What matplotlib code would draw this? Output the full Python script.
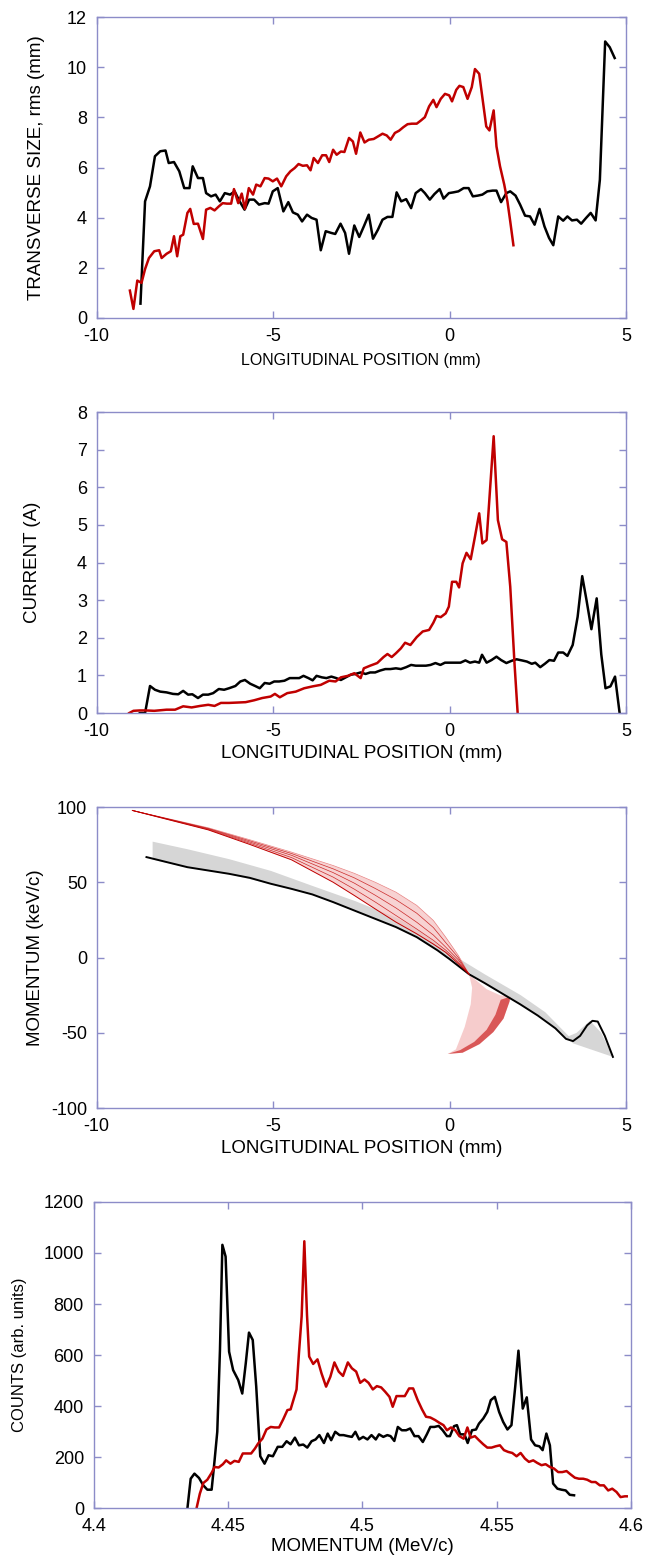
import numpy as np
import matplotlib
matplotlib.use("Agg")
import matplotlib.pyplot as plt

plt.rcParams['font.family'] = ['Liberation Sans', 'DejaVu Sans']
plt.rcParams['axes.unicode_minus'] = False

RED = '#c00000'
FRAME = '#8c8cc8'

# ---- panel 1: transverse size vs longitudinal position
size_black_x = [-8.76, -8.63, -8.49, -8.35, -8.20, -8.05, -7.96, -7.81, -7.66, -7.52, -7.37, -7.28,
                -7.13, -6.99, -6.90, -6.76, -6.63, -6.51, -6.37, -6.22, -6.09, -5.95, -5.81, -5.68,
                -5.54, -5.40, -5.24, -5.13, -5.01, -4.87, -4.71, -4.57, -4.44, -4.30, -4.18, -4.04,
                -3.91, -3.77, -3.65, -3.51, -3.35, -3.24, -3.09, -2.96, -2.85, -2.70, -2.56, -2.43,
                -2.29, -2.17, -2.03, -1.90, -1.76, -1.62, -1.50, -1.37, -1.23, -1.09, -0.96, -0.81,
                -0.70, -0.56, -0.43, -0.28, -0.17, -0.02, 0.11, 0.25, 0.40, 0.54, 0.66, 0.80, 0.93,
                1.07, 1.22, 1.33, 1.46, 1.61, 1.72, 1.87, 2.00, 2.14, 2.28, 2.41, 2.55, 2.69, 2.82,
                2.94, 3.08, 3.22, 3.34, 3.47, 3.61, 3.73, 3.87, 4.00, 4.14, 4.26, 4.41, 4.54, 4.68]
size_black_y = [0.57, 4.65, 5.25, 6.45, 6.65, 6.68, 6.18, 6.22, 5.85, 5.18, 5.18, 6.05,
                5.58, 5.58, 4.98, 4.85, 4.92, 4.65, 4.98, 4.92, 5.05, 4.65, 4.32, 4.72,
                4.72, 4.52, 4.58, 4.56, 5.05, 5.18, 4.25, 4.62, 4.21, 4.12, 3.85, 4.12,
                3.99, 3.92, 2.70, 3.46, 3.39, 3.35, 3.76, 3.39, 2.56, 3.69, 3.23, 3.65,
                4.12, 3.16, 3.52, 3.92, 4.03, 4.03, 5.01, 4.65, 4.74, 4.38, 4.98, 5.14,
                4.98, 4.72, 4.94, 5.14, 4.76, 4.98, 5.01, 5.05, 5.18, 5.18, 4.85, 4.88, 4.92,
                5.05, 5.08, 5.08, 4.62, 4.98, 5.05, 4.88, 4.52, 4.08, 4.05, 3.72, 4.35, 3.65, 3.19,
                2.90, 4.05, 3.88, 4.05, 3.89, 3.92, 3.76, 3.99, 4.19, 3.89, 5.51, 11.03, 10.80, 10.37]
size_red_x = [-9.06, -8.96, -8.85, -8.73, -8.63, -8.52, -8.37, -8.23, -8.16, -8.02, -7.90, -7.81,
              -7.72, -7.63, -7.55, -7.43, -7.35, -7.25, -7.13, -6.99, -6.90, -6.78, -6.66, -6.54,
              -6.43, -6.31, -6.19, -6.11, -5.99, -5.89, -5.80, -5.69, -5.57, -5.48, -5.36, -5.24,
              -5.13, -5.01, -4.89, -4.77, -4.63, -4.51, -4.39, -4.28, -4.16, -4.04, -3.94, -3.85,
              -3.73, -3.61, -3.50, -3.41, -3.30, -3.20, -3.08, -2.98, -2.85, -2.74, -2.65, -2.53,
              -2.41, -2.29, -2.15, -2.03, -1.90, -1.78, -1.67, -1.55, -1.43, -1.31, -1.19, -1.07,
              -0.93, -0.81, -0.70, -0.58, -0.46, -0.37, -0.25, -0.13, -0.01, 0.07, 0.19, 0.28,
              0.39, 0.51, 0.63, 0.72, 0.84, 0.96, 1.04, 1.13, 1.25, 1.33, 1.43, 1.55, 1.64, 1.72, 1.81]
size_red_y = [1.09, 0.36, 1.49, 1.40, 1.95, 2.39, 2.66, 2.70, 2.39, 2.56, 2.66, 3.26,
              2.46, 3.26, 3.32, 4.19, 4.35, 3.75, 3.76, 3.15, 4.32, 4.39, 4.29, 4.45,
              4.58, 4.56, 4.56, 5.14, 4.58, 4.96, 4.35, 5.18, 4.92, 5.32, 5.25, 5.58,
              5.56, 5.45, 5.56, 5.25, 5.65, 5.85, 5.98, 6.14, 6.07, 6.09, 5.89, 6.38,
              6.18, 6.49, 6.49, 6.22, 6.71, 6.51, 6.64, 6.62, 7.18, 7.04, 6.55, 7.40,
              7.00, 7.11, 7.14, 7.24, 7.35, 7.28, 7.11, 7.38, 7.47, 7.61, 7.73, 7.75,
              7.75, 7.88, 8.01, 8.44, 8.70, 8.41, 8.74, 8.94, 8.88, 8.64, 9.10, 9.26,
              9.21, 8.74, 9.21, 9.93, 9.74, 8.48, 7.64, 7.48, 8.28, 6.84, 6.05, 5.32, 4.65, 3.85, 2.90]

# ---- panel 2: current vs longitudinal position
cur_black_x = [-8.78, -8.63, -8.49, -8.35, -8.20, -8.02, -7.84, -7.69, -7.55, -7.41, -7.29, -7.13,
               -6.99, -6.84, -6.70, -6.54, -6.39, -6.25, -6.07, -5.93, -5.80, -5.65, -5.51, -5.38,
               -5.24, -5.10, -4.97, -4.83, -4.68, -4.53, -4.39, -4.26, -4.14, -4.00, -3.88, -3.77,
               -3.62, -3.49, -3.35, -3.21, -3.08, -2.94, -2.80, -2.67, -2.52, -2.38, -2.25, -2.11,
               -1.97, -1.82, -1.68, -1.52, -1.38, -1.23, -1.09, -0.96, -0.81, -0.67, -0.54, -0.40,
               -0.26, -0.13, 0.01, 0.15, 0.31, 0.45, 0.58, 0.72, 0.84, 0.92, 1.05, 1.19, 1.33,
               1.46, 1.61, 1.76, 1.90, 2.05, 2.19, 2.33, 2.43, 2.57, 2.70, 2.83, 2.96, 3.08, 3.22,
               3.34, 3.49, 3.63, 3.76, 3.88, 4.02, 4.17, 4.30, 4.42, 4.56, 4.69, 4.82]
cur_black_y = [0.0, 0.0, 0.72, 0.62, 0.57, 0.55, 0.51, 0.50, 0.59, 0.49, 0.50, 0.40,
               0.49, 0.49, 0.53, 0.64, 0.62, 0.66, 0.72, 0.84, 0.88, 0.78, 0.72, 0.66,
               0.80, 0.78, 0.84, 0.84, 0.86, 0.93, 0.93, 0.93, 0.99, 0.93, 0.87, 0.99,
               0.95, 0.93, 0.97, 0.93, 0.88, 0.95, 1.02, 1.04, 1.08, 1.04, 1.08, 1.08,
               1.13, 1.17, 1.17, 1.19, 1.17, 1.22, 1.28, 1.26, 1.26, 1.26, 1.28, 1.33,
               1.28, 1.34, 1.34, 1.34, 1.34, 1.40, 1.34, 1.37, 1.34, 1.55, 1.34, 1.41, 1.50,
               1.41, 1.33, 1.39, 1.43, 1.40, 1.37, 1.31, 1.34, 1.22, 1.31, 1.41, 1.39, 1.61, 1.61,
               1.52, 1.81, 2.56, 3.64, 3.01, 2.23, 3.05, 1.56, 0.66, 0.71, 0.97, 0.0]
cur_red_x = [-9.08, -8.96, -8.78, -8.61, -8.37, -8.02, -7.78, -7.55, -7.31, -7.07, -6.84, -6.66,
             -6.48, -6.25, -6.01, -5.78, -5.54, -5.31, -5.07, -4.95, -4.81, -4.60, -4.36, -4.12,
             -3.88, -3.65, -3.41, -3.23, -3.08, -2.88, -2.70, -2.52, -2.43, -2.25, -2.05, -1.87,
             -1.76, -1.64, -1.52, -1.38, -1.26, -1.11, -0.93, -0.76, -0.58, -0.46, -0.37, -0.25,
             -0.11, -0.02, 0.07, 0.19, 0.27, 0.37, 0.48, 0.60, 0.72, 0.84, 0.93, 1.05, 1.25,
             1.37, 1.49, 1.61, 1.72, 1.84, 1.93]
cur_red_y = [0.0, 0.06, 0.07, 0.07, 0.06, 0.09, 0.09, 0.18, 0.15, 0.19, 0.22, 0.19,
             0.27, 0.27, 0.28, 0.29, 0.34, 0.40, 0.44, 0.51, 0.42, 0.53, 0.57, 0.66,
             0.71, 0.75, 0.86, 0.84, 0.95, 0.99, 1.06, 0.93, 1.19, 1.26, 1.33, 1.49,
             1.57, 1.49, 1.59, 1.72, 1.87, 1.81, 2.02, 2.17, 2.21, 2.40, 2.58, 2.55,
             2.65, 2.83, 3.49, 3.49, 3.34, 3.98, 4.26, 4.09, 4.69, 5.31, 4.51, 4.60, 7.36,
             5.13, 4.62, 4.55, 3.36, 1.33, 0.0]

# ---- panel 3: longitudinal phase space (band edges and dense filaments)
ps_black_x = [-8.59, -8.02, -7.43, -6.84, -6.25, -5.66, -5.07, -4.48, -3.89, -3.30, -2.70, -2.11,
              -1.52, -0.93, -0.34, 0.0, 0.55, 1.0, 1.5, 2.0, 2.5, 3.0, 3.3, 3.5, 3.7, 3.9, 4.05,
              4.2, 4.4, 4.63]
ps_black_y = [66.8, 63.5, 60.1, 57.9, 55.7, 53.0, 49.1, 45.7, 42.0, 36.9, 31.3, 25.8,
              20.3, 13.6, 4.8, -1.0, -11.0, -17.0, -24.0, -31.0, -38.5, -47.0, -54.0, -55.5,
              -52.0, -45.0, -42.0, -42.5, -52.0, -66.0]
ps_gray_x = [-8.43, -7.43, -6.25, -5.07, -3.89, -2.70, -1.52, -0.93, -0.34, 0.37, 1.0, 2.0, 2.7, 3.37]
ps_gray_hi = [77.4, 72.3, 65.7, 57.9, 47.9, 38.0, 26.9, 19.0, 9.0, -2.0, -11.0, -24.6, -36.0, -52.0]
ps_gray_lo = [65.5, 60.1, 55.7, 49.1, 42.0, 31.3, 20.3, 13.6, 4.8, -7.0, -17.0, -31.0, -41.0, -54.5]
ps_tri_x = [3.3, 3.6, 3.98, 4.3, 4.63, 3.5]
ps_tri_y = [-53, -50, -42, -50, -66, -57]

ps_red_x = [-8.99, -6.84, -5.66, -4.48, -3.30, -2.70, -2.11, -1.52, -0.93, -0.46, -0.11, 0.25, 0.55]
ps_red_hi = [97.8, 86.3, 78.3, 70.1, 61.2, 56.0, 50.1, 43.5, 34.7, 24.7, 13.6, 1.4, -11.0]
ps_red_lo = [97.8, 84.9, 75.2, 65.0, 50.1, 41.3, 32.4, 23.6, 15.8, 9.0, 3.5, -4.1, -11.0]
ps_red_s1 = [97.8, 85.2, 76.0, 66.5, 53.5, 45.5, 37.0, 28.0, 19.0, 11.5, 5.0, -3.0, -11.0]
ps_red_s2 = [97.8, 85.6, 76.8, 68.0, 56.5, 49.5, 41.5, 33.0, 23.5, 15.0, 7.0, -1.5, -11.0]
ps_red_s3 = [97.8, 85.9, 77.6, 69.2, 59.0, 53.0, 46.0, 38.5, 29.5, 20.0, 10.0, 0.0, -11.0]
ps_hook_x = [0.55, 1.05, 1.43, 1.72, 1.70, 1.53, 1.24, 0.85, 0.37, -0.05, 0.18, 0.43, 0.60, 0.64]
ps_hook_y = [-11, -21, -25, -26, -29.2, -40.5, -49.5, -57.5, -63.2, -64, -61, -46, -31, -20]
ps_dense_x = [1.72, 1.70, 1.53, 1.24, 0.85, 0.37, -0.05, 0.3, 0.7, 1.05, 1.3, 1.45]
ps_dense_y = [-26, -29.2, -40.5, -49.5, -57.5, -63.2, -64, -61.5, -56, -48, -38, -28]

# ---- panel 4: momentum spectrum
spec_black_x = [4.4349, 4.4361, 4.4375, 4.4392, 4.4408, 4.4423, 4.4439, 4.4450, 4.4460, 4.4470,
                4.4479, 4.4491, 4.4504, 4.4519, 4.4538, 4.4553, 4.4566, 4.4578, 4.4592, 4.4605,
                4.4620, 4.4636, 4.4651, 4.4667, 4.4685, 4.4702, 4.4718, 4.4733, 4.4749, 4.4764,
                4.4780, 4.4795, 4.4811, 4.4826, 4.4840, 4.4857, 4.4871, 4.4884, 4.4899, 4.4915,
                4.4930, 4.4946, 4.4961, 4.4974, 4.4988, 4.5003, 4.5019, 4.5034, 4.5050, 4.5062,
                4.5078, 4.5093, 4.5105, 4.5119, 4.5132, 4.5147, 4.5163, 4.5178, 4.5194, 4.5209,
                4.5225, 4.5240, 4.5253, 4.5268, 4.5284, 4.5299, 4.5315, 4.5326, 4.5341, 4.5352,
                4.5364, 4.5380, 4.5392, 4.5408, 4.5423, 4.5434, 4.5450, 4.5465, 4.5478, 4.5493,
                4.5509, 4.5524, 4.5540, 4.5555, 4.5569, 4.5581, 4.5597, 4.5612, 4.5628, 4.5643,
                4.5659, 4.5671, 4.5685, 4.5698, 4.5710, 4.5726, 4.5741, 4.5757, 4.5772, 4.5788]
spec_black_y = [0, 115, 135, 118, 89, 72, 72, 187, 299, 620,
                1032, 986, 613, 541, 502, 449, 567, 688, 659, 476,
                203, 174, 207, 203, 240, 240, 262, 250, 276, 246,
                249, 237, 262, 269, 286, 255, 292, 266, 299, 286,
                286, 282, 279, 299, 269, 279, 269, 286, 269, 289,
                279, 286, 282, 263, 318, 305, 305, 312, 282, 282,
                259, 289, 318, 318, 322, 305, 282, 282, 321, 325,
                289, 289, 255, 305, 308, 331, 351, 377, 423, 436,
                377, 338, 308, 325, 476, 617, 390, 434, 269, 246,
                242, 227, 292, 246, 96, 76, 72, 69, 52, 50]
spec_red_x = [4.4383, 4.4395, 4.4408, 4.4423, 4.4439, 4.4450, 4.4465, 4.4481, 4.4493, 4.4509,
              4.4524, 4.4540, 4.4555, 4.4571, 4.4586, 4.4600, 4.4612, 4.4628, 4.4643, 4.4659,
              4.4674, 4.4690, 4.4705, 4.4721, 4.4733, 4.4744, 4.4755, 4.4764, 4.4774, 4.4784,
              4.4794, 4.4802, 4.4817, 4.4833, 4.4848, 4.4865, 4.4881, 4.4896, 4.4912, 4.4928,
              4.4946, 4.4961, 4.4977, 4.4992, 4.5008, 4.5023, 4.5039, 4.5054, 4.5070, 4.5085,
              4.5101, 4.5113, 4.5127, 4.5143, 4.5158, 4.5174, 4.5189, 4.5206, 4.5222, 4.5237,
              4.5253, 4.5271, 4.5287, 4.5302, 4.5315, 4.5330, 4.5346, 4.5361, 4.5377, 4.5391,
              4.5403, 4.5419, 4.5434, 4.5450, 4.5465, 4.5481, 4.5496, 4.5512, 4.5527, 4.5543,
              4.5558, 4.5574, 4.5589, 4.5605, 4.5620, 4.5636, 4.5651, 4.5667, 4.5682, 4.5698,
              4.5713, 4.5729, 4.5744, 4.5760, 4.5775, 4.5791, 4.5806, 4.5822, 4.5837, 4.5853,
              4.5868, 4.5884, 4.5899, 4.5915, 4.5930, 4.5946, 4.5961, 4.5977, 4.5984]
spec_red_y = [0, 56, 98, 111, 138, 161, 159, 172, 187, 174,
              185, 181, 214, 214, 214, 233, 253, 272, 308, 318,
              316, 316, 347, 384, 387, 426, 465, 607, 751, 1046,
              757, 594, 565, 583, 528, 476, 515, 571, 535, 518,
              571, 548, 535, 491, 504, 491, 465, 478, 473, 456,
              436, 397, 439, 439, 439, 469, 469, 423, 387, 358,
              355, 345, 334, 325, 305, 316, 305, 282, 272, 316,
              276, 282, 266, 250, 237, 237, 242, 246, 227, 220,
              216, 203, 216, 194, 181, 187, 177, 168, 172, 161,
              155, 141, 141, 145, 132, 119, 115, 115, 111, 102,
              102, 89, 89, 69, 76, 63, 43, 46, 46]

pos_ticks = [-10, -5, 0, 5]


def style_axes(ax):
    for sp in ax.spines.values():
        sp.set_color(FRAME)
        sp.set_linewidth(1.0)
    ax.tick_params(direction='in', length=5, width=1.0, color=FRAME,
                   top=True, right=True, labelsize=13, pad=7)


fig = plt.figure(figsize=(6.47, 15.6), dpi=100)

ax1 = fig.add_axes([0.1495, 0.7962, 0.818, 0.1928])
ax1.plot(size_black_x, size_black_y, color='black', lw=1.8)
ax1.plot(size_red_x, size_red_y, color=RED, lw=1.8)
ax1.set_xlim(-10, 5)
ax1.set_ylim(0, 12)
ax1.set_xticks(pos_ticks)
ax1.set_yticks(range(0, 13, 2))
ax1.set_xlabel('LONGITUDINAL POSITION (mm)', fontsize=11.5, labelpad=6)
ax1.set_ylabel('TRANSVERSE SIZE, rms (mm)', fontsize=13.5, labelpad=16)
style_axes(ax1)

ax2 = fig.add_axes([0.1495, 0.5429, 0.818, 0.1929])
ax2.plot(cur_black_x, cur_black_y, color='black', lw=1.8)
ax2.plot(cur_red_x, cur_red_y, color=RED, lw=1.8)
ax2.set_xlim(-10, 5)
ax2.set_ylim(0, 8)
ax2.set_xticks(pos_ticks)
ax2.set_yticks(range(0, 9))
ax2.set_xlabel('LONGITUDINAL POSITION (mm)', fontsize=13.5, labelpad=4)
ax2.set_ylabel('CURRENT (A)', fontsize=13.5, labelpad=26)
style_axes(ax2)

ax3 = fig.add_axes([0.1495, 0.2897, 0.818, 0.1929])
ax3.fill_between(ps_gray_x, ps_gray_lo, ps_gray_hi, color='#cccccc', lw=0, alpha=0.8)
ax3.fill(ps_tri_x, ps_tri_y, color='#cccccc', lw=0, alpha=0.8)
ax3.plot(ps_black_x, ps_black_y, color='black', lw=1.4)
ax3.fill_between(ps_red_x, ps_red_lo, ps_red_hi, color='#f4c0c0', lw=0, alpha=0.7)
ax3.plot(ps_red_x, ps_red_hi, color='#e88080', lw=0.5)
ax3.plot(ps_red_x, ps_red_lo, color=RED, lw=0.7)
for strand in (ps_red_s1, ps_red_s2, ps_red_s3):
    ax3.plot(ps_red_x, strand, color=RED, lw=0.5, alpha=0.8)
ax3.fill(ps_hook_x, ps_hook_y, color='#f4c0c0', lw=0, alpha=0.8)
ax3.fill(ps_dense_x, ps_dense_y, color='#d03030', lw=0, alpha=0.75)
ax3.set_xlim(-10, 5)
ax3.set_ylim(-100, 100)
ax3.set_xticks(pos_ticks)
ax3.set_yticks(range(-100, 101, 50))
ax3.set_xlabel('LONGITUDINAL POSITION (mm)', fontsize=13.5, labelpad=4)
ax3.set_ylabel('MOMENTUM (keV/c)', fontsize=13.5, labelpad=5)
style_axes(ax3)

ax4 = fig.add_axes([0.1448, 0.0333, 0.8305, 0.1962])
ax4.plot(spec_black_x, spec_black_y, color='black', lw=1.8)
ax4.plot(spec_red_x, spec_red_y, color=RED, lw=1.8)
ax4.set_xlim(4.4, 4.6)
ax4.set_ylim(0, 1200)
ax4.set_xticks([4.4, 4.45, 4.5, 4.55, 4.6])
ax4.set_xticklabels(['4.4', '4.45', '4.5', '4.55', '4.6'])
ax4.set_yticks(range(0, 1201, 200))
ax4.set_xlabel('MOMENTUM (MeV/c)', fontsize=13.5, labelpad=2)
ax4.set_ylabel('COUNTS (arb. units)', fontsize=12, labelpad=12)
style_axes(ax4)

fig.savefig('out.png', dpi=100)
